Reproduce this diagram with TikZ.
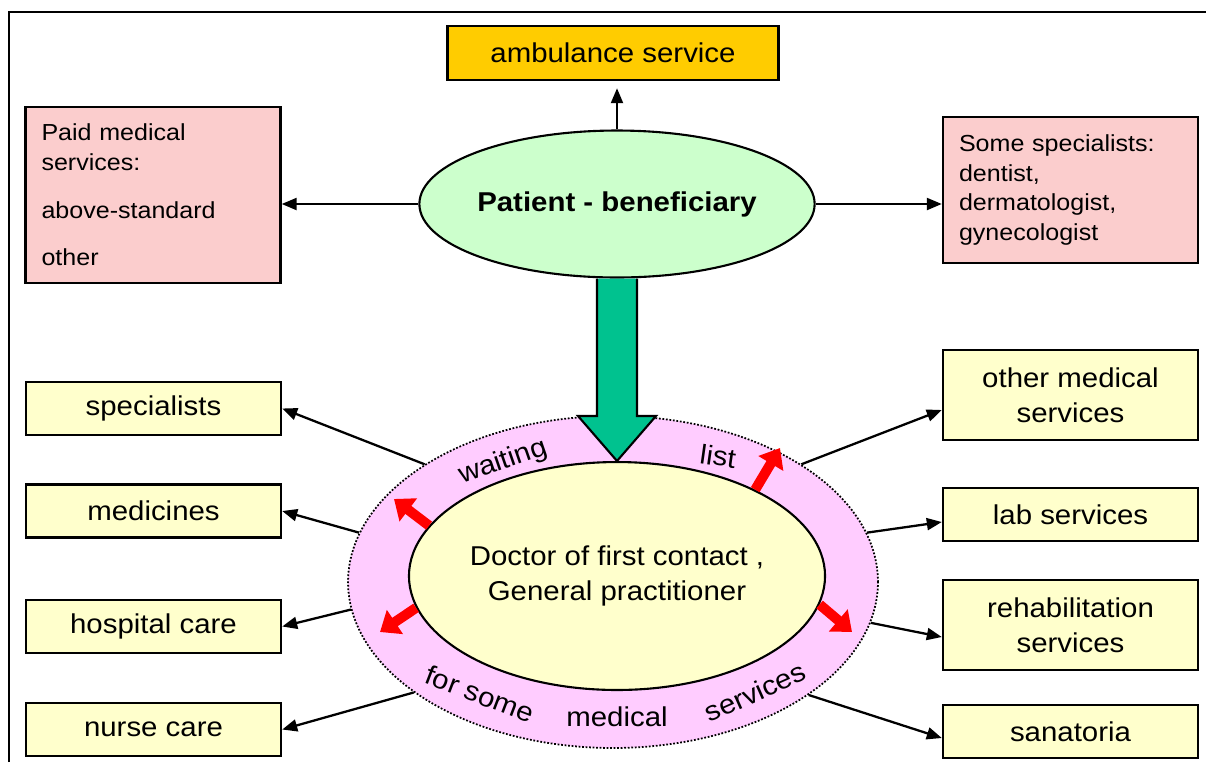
\documentclass[tikz,border=0pt]{standalone}
\usepackage{fontspec}
\setmainfont[FakeStretch=1.08]{Liberation Sans}
\usepackage{xcolor}
\usetikzlibrary{arrows.meta,positioning,shapes.geometric,calc}
\definecolor{ambgold}{HTML}{FFCC00}
\definecolor{paidpink}{HTML}{FBCDCD}
\definecolor{patgreen}{HTML}{CCFFCC}
\definecolor{boxyellow}{HTML}{FFFFCC}
\definecolor{ringpink}{HTML}{FFCCFF}
\definecolor{bigarrow}{HTML}{00C28F}
\tikzset{
  topbox/.style={draw, line width=1.4pt, fill=ambgold, minimum width=6.62cm, minimum height=1.08cm, font=\fontsize{15.5}{20}\selectfont},
  paidbox/.style={draw, line width=1.4pt, fill=paidpink, align=left, inner xsep=0.32cm, text width=4.46cm, font=\fontsize{13.2}{17}\selectfont},
  servbox/.style={draw, line width=1.4pt, fill=boxyellow, align=center, minimum width=5.1cm, minimum height=1.06cm, font=\fontsize{15.5}{20}\selectfont},
  patient/.style={ellipse, draw, line width=1.2pt, fill=patgreen, minimum width=6.38cm, minimum height=2.94cm, inner sep=0pt, font=\fontsize{15.5}{20}\selectfont\bfseries},
  ring/.style={ellipse, draw, line width=1pt, densely dotted, fill=ringpink, minimum width=10.6cm, minimum height=6.64cm},
  gp/.style={ellipse, draw, line width=1.2pt, fill=boxyellow, minimum width=8.16cm, minimum height=4.56cm, inner sep=0pt, align=center, font=\fontsize{15.5}{20}\selectfont},
  ringtext/.style={inner sep=0pt, font=\fontsize{15.5}{20}\selectfont},
  arrow/.style={-{Triangle[length=0.3cm, width=0.24cm]}, line width=1.3pt},
  redarrow/.style={-{Triangle[length=0.36cm, width=0.56cm]}, line width=0.2cm, red},
  greenarrow/.style={draw, line width=1.2pt, fill=bigarrow, line join=miter}
}
\begin{document}
\begin{tikzpicture}[x=0.02cm, y=-0.02cm]
  \useasboundingbox (0,0) rectangle (1206,762);
  \draw[line width=0.6pt] (9,762) -- (9,12) -- (1206,12);

  % top part
  \node[topbox] (amb) at (613,53) {ambulance service};
  \node[patient] (patient) at (617,204) {Patient - beneficiary};
  \node[paidbox, minimum height=3.52cm] (paid) at (153,195) {Paid medical\\services:\\[10pt]above-standard\\[10pt]other};
  \node[paidbox, minimum height=2.92cm] (somespec) at (1070.5,190) {Some specialists:\\dentist,\\dermatologist,\\gynecologist};

  \draw[arrow, shorten >=0.14cm] (patient.north) -- (patient.north |- amb.south);
  \draw[arrow] (patient.west) -- (patient.west -| paid.east);
  \draw[arrow] (patient.east) -- (patient.east -| somespec.west);

  % doctor of first contact
  \node[ring] (ring) at (613,582) {};
  \node[gp] (gp) at (617,576) {Doctor of first contact ,\\General practitioner};
  \path[greenarrow] ($(patient.south)+(-20,0)$) -- ($(gp.north)+(-20,-45)$) -- ($(gp.north)+(-39,-45)$)
    -- (gp.north) -- ($(gp.north)+(39,-45)$) -- ($(gp.north)+(20,-45)$) -- ($(patient.south)+(20,0)$);

  \node[ringtext, rotate=19] (waiting) at (503,462) {waiting};
  \node[ringtext, rotate=-8] (list) at (718,456) {list};
  \node[ringtext, rotate=-21] (forsome) at (480,694) {for some};
  \node[ringtext, anchor=base] (medical) at (617,726) {medical};
  \node[ringtext, rotate=24] (services) at (755,692) {services};

  \coordinate (r1) at (394,499);
  \coordinate (r2) at (780,448);
  \coordinate (r3) at (380,632);
  \coordinate (r4) at (852,632);
  \draw[redarrow] (gp.165) -- (r1);
  \draw[redarrow] (gp.32) -- (r2);
  \draw[redarrow] (gp.189) -- (r3);
  \draw[redarrow] (gp.352) -- (r4);

  % services
  \node[servbox] (spec) at (153.5,408.5) {specialists};
  \node[servbox] (meds) at (153.5,511) {medicines};
  \node[servbox] (hosp) at (153.5,626.5) {hospital care};
  \node[servbox] (nurse) at (153.5,729.5) {nurse care};
  \node[servbox, minimum height=1.8cm] (othermed) at (1070.5,395) {other medical\\services};
  \node[servbox] (lab) at (1070.5,514.5) {lab services};
  \node[servbox, minimum height=1.8cm] (rehab) at (1070.5,625) {rehabilitation\\services};
  \node[servbox] (sanat) at (1070.5,731.5) {sanatoria};

  \draw[arrow] (ring.148) -- (spec.east);
  \draw[arrow] (ring.169) -- (meds.east);
  \draw[arrow] (ring.186) -- (hosp.east);
  \draw[arrow] (ring.209) -- (nurse.east);
  \draw[arrow] (ring.32) -- ([yshift=-0.3cm]othermed.west);
  \draw[arrow] (ring.11) -- ([yshift=-0.15cm]lab.west);
  \draw[arrow] (ring.351) -- ([yshift=-0.24cm]rehab.west);
  \draw[arrow] (ring.330) -- ([yshift=-0.13cm]sanat.west);
\end{tikzpicture}
\end{document}
